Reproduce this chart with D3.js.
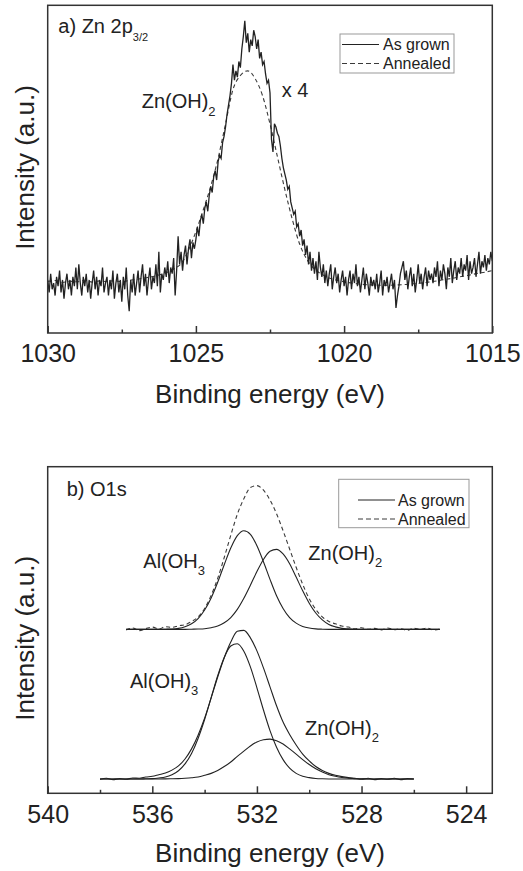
<!DOCTYPE html>
<html>
<head>
<meta charset="utf-8">
<script src="https://cdn.jsdelivr.net/npm/d3@7"></script>
<style>
body { margin: 0; background: #fff; }
svg { display: block; font-family: "Liberation Sans", Arial, sans-serif; }
</style>
</head>
<body>
<svg id="chart" width="523" height="871"></svg>
<script>
// ---- a) Zn 2p3/2 ----
const znTicks = [1030, 1025, 1020, 1015];
const znMinorTicks = [1027.5, 1022.5, 1017.5];
const znEnergy = d3.range(1030, 1014.99, -0.05);
const znAsGrown = [
	17, 13, 19, 14, 16, 12, 18, 15, 20, 13, 17, 11, 16, 19, 14, 17, 12, 18, 15, 21,
	14, 22, 16, 12, 18, 15, 19, 13, 17, 11, 16, 20, 14, 18, 12, 17, 15, 21, 13, 16,
	18, 12, 17, 14, 20, 11, 16, 19, 13, 17, 10, 18, 14, 21, 12, 7, 17, 13, 19, 12,
	16, 20, 13, 18, 22, 15, 19, 12, 17, 21, 14, 18, 16, 22, 15, 26, 13, 19, 17, 21,
	18, 23, 16, 21, 19, 24, 12, 20, 31, 22, 26, 20, 25, 28, 22, 27, 30, 24, 29, 27,
	30, 34, 31, 36, 38, 35, 40, 42, 39, 44, 47, 45, 50, 52, 49, 55, 57, 56, 61, 63,
	66, 70, 73, 76, 80, 86, 81, 84, 82, 87, 85, 91, 95, 100, 93, 96, 90, 94, 92, 97,
	95, 91, 94, 88, 90, 86, 87, 83, 80, 81, 77, 62, 58, 67, 66, 64, 63, 60, 56, 53,
	51, 49, 46, 47, 42, 40, 38, 39, 34, 35, 31, 33, 28, 30, 25, 28, 22, 26, 20, 24,
	19, 23, 17, 26, 21, 18, 22, 16, 20, 15, 19, 22, 14, 18, 21, 16, 19, 13, 17, 20,
	15, 18, 12, 17, 20, 14, 19, 16, 22, 15, 18, 13, 17, 21, 14, 19, 16, 12, 18, 15,
	17, 14, 19, 13, 16, 20, 12, 17, 15, 18, 13, 16, 19, 14, 17, 8, 12, 15, 19, 21,
	23, 17, 20, 14, 18, 21, 15, 19, 13, 17, 22, 16, 19, 14, 18, 21, 15, 20, 17, 19,
	16, 21, 18, 23, 15, 20, 17, 22, 19, 14, 21, 18, 24, 16, 20, 23, 17, 21, 19, 24,
	18, 22, 20, 25, 17, 23, 19, 21, 24, 18, 22, 26, 19, 23, 21, 25, 20, 24, 22, 26, 23
];
const znAnnealedEnergy = d3.range(1030, 1014.99, -0.25);
const znAnnealed = [
	16.5, 16.8, 16.2, 16.6, 16.4, 16.9, 16.3, 16.7, 16.5, 16.8, 16.4, 16.9,
	17.2, 17.6, 18.0, 18.6, 19.3, 20.5, 22.2, 26.5, 32.5, 39.5, 47, 56, 67,
	78, 82.5, 84, 81.5, 76, 67, 56.5, 46, 36.5, 28.5, 23.5, 20.5, 18.8, 17.6,
	16.9, 16.4, 16.0, 15.7, 15.5, 15.4, 15.3, 15.3, 15.4, 15.5, 15.7, 15.9,
	16.2, 16.5, 16.9, 17.3, 17.7, 18.2, 18.6, 19.1, 19.5, 20.0
];

// ---- b) O1s ----
const oTicks = [540, 536, 532, 528, 524];
const oMinorTicks = [538, 534, 530, 526];
// annealed (upper, offset) set
const oUpperEnergy = d3.range(537, 524.99, -0.25);
const oAnnealed = [
	50.0, 50.6, 49.8, 50.4, 50.9, 50.3, 51.0, 50.8, 51.3, 51.6, 52.6, 54.0,
	56.6, 60.6, 65.8, 72.2, 79.0, 85.4, 90.2, 93.6, 94.2, 92.8, 89.8, 85.6,
	80.4, 74.8, 69.2, 64.0, 59.6, 56.3, 54.0, 52.6, 51.9, 51.2, 50.9, 50.4,
	50.7, 50.2, 50.5, 50.0, 50.6, 50.1, 50.4, 49.9, 50.5, 50.2, 50.6, 50.0, 50.3
];
const oAnnealedAl = [
	50.2, 50.2, 50.2, 50.2, 50.2, 50.2, 50.25, 50.3, 50.5, 51.0, 51.9, 53.5,
	56.1, 59.8, 64.6, 70.0, 75.1, 78.9, 80.4, 79.3, 75.8, 70.9, 65.5, 60.5,
	56.6, 53.8, 52.1, 51.1, 50.6, 50.35, 50.25, 50.2, 50.2, 50.2, 50.2, 50.2,
	50.2, 50.2, 50.2, 50.2, 50.2, 50.2, 50.2, 50.2, 50.2, 50.2, 50.2, 50.2, 50.2
];
const oAnnealedZn = [
	50.2, 50.2, 50.2, 50.2, 50.2, 50.2, 50.2, 50.2, 50.2, 50.2, 50.25, 50.3,
	50.4, 50.7, 51.2, 52.2, 53.8, 56.3, 59.7, 63.7, 67.9, 71.6, 74.1, 74.7,
	73.3, 70.3, 66.2, 62.0, 58.2, 55.2, 53.1, 51.7, 50.95, 50.5, 50.35, 50.25,
	50.2, 50.2, 50.2, 50.2, 50.2, 50.2, 50.2, 50.2, 50.2, 50.2, 50.2, 50.2, 50.2
];
// as grown (lower) set
const oLowerEnergy = d3.range(538, 525.99, -0.25);
const oAsGrown = [
	4.3, 4.6, 4.2, 4.5, 4.3, 4.7, 4.6, 5.0, 5.2, 5.7, 6.2, 7.1,
	8.4, 10.5, 13.6, 17.8, 23.0, 29.2, 35.6, 41.5, 46.3, 49.6, 49.9, 47.6,
	43.6, 38.4, 32.6, 26.8, 21.8, 18.0, 14.8, 12.0, 9.9, 8.2, 7.0, 6.1,
	5.5, 5.1, 4.8, 4.6, 4.3, 4.6, 4.2, 4.5, 4.3, 4.6, 4.2, 4.5, 4.4
];
const oAsGrownAl = [
	4.4, 4.4, 4.4, 4.4, 4.4, 4.4, 4.4, 4.45, 4.5, 4.7, 5.0, 5.7,
	6.9, 9.0, 12.2, 16.8, 22.6, 29.3, 36.0, 41.6, 45.1, 45.8, 43.5, 38.7,
	32.3, 25.5, 19.2, 14.1, 10.3, 7.7, 6.1, 5.2, 4.8, 4.55, 4.45, 4.4,
	4.4, 4.4, 4.4, 4.4, 4.4, 4.4, 4.4, 4.4, 4.4, 4.4, 4.4, 4.4, 4.4
];
const oAsGrownZn = [
	4.4, 4.4, 4.4, 4.4, 4.4, 4.4, 4.4, 4.4, 4.4, 4.4, 4.42, 4.45,
	4.5, 4.6, 4.75, 5.0, 5.5, 6.1, 7.0, 8.2, 9.6, 11.3, 12.9, 14.5,
	15.7, 16.4, 16.6, 16.1, 15.1, 13.6, 12.0, 10.3, 8.8, 7.5, 6.5, 5.7,
	5.2, 4.85, 4.65, 4.5, 4.45, 4.4, 4.4, 4.4, 4.4, 4.4, 4.4, 4.4, 4.4
];

const legendLabels = ["As grown", "Annealed"];

const ink = "#222";
const svg = d3.select("#chart");

/** pair an energy grid with its intensities */
function zipSeries(energy, values) {
	return energy.map((e, i) => ({e: e, v: values[i]}));
}

/** text with an optional subscript tail */
function label(g, x, y, main, sub, size, subSize, subDy) {
	const t = g.append("text")
		.attr("x", x).attr("y", y)
		.attr("font-size", size)
		.attr("fill", ink)
		.text(main);
	if (sub) {
		t.append("tspan")
			.attr("font-size", subSize)
			.attr("dy", subDy)
			.text(sub);
	}
	return t;
}

/** draws one panel: frame, inward ticks, axis titles, curves, legend */
function drawPanel(p) {
	const x = d3.scaleLinear().domain(p.xDomain).range([p.left, p.right]);
	const y = d3.scaleLinear().domain(p.yDomain).range([p.bottom, p.top]);
	const g = svg.append("g");

	// curves
	p.series.forEach(s => {
		const line = d3.line()
			.x(d => x(d.e))
			.y(d => y(d.v))
			.curve(s.smooth ? d3.curveMonotoneX : d3.curveLinear);
		g.append("path")
			.datum(zipSeries(s.energy, s.values))
			.attr("d", line)
			.attr("fill", "none")
			.attr("stroke", s.dashed ? "#3a3a3a" : ink)
			.attr("stroke-width", s.width || 1.1)
			.attr("stroke-dasharray", s.dashed ? "4,3" : null);
	});

	// major ticks + labels
	const axis = g.append("g")
		.attr("transform", `translate(0,${p.bottom})`)
		.call(d3.axisBottom(x).tickValues(p.ticks).tickSize(-7).tickPadding(11.5).tickFormat(d3.format("d")));
	axis.select(".domain").remove();
	axis.selectAll("line").attr("stroke", "#333").attr("stroke-width", 1.5);
	axis.selectAll("text")
		.attr("font-size", 25)
		.attr("fill", ink)
		.attr("font-family", "Liberation Sans, Arial, sans-serif");

	// minor ticks
	const minor = g.append("g")
		.attr("transform", `translate(0,${p.bottom})`)
		.call(d3.axisBottom(x).tickValues(p.minorTicks).tickSize(-3.5).tickFormat(""));
	minor.select(".domain").remove();
	minor.selectAll("line").attr("stroke", "#333").attr("stroke-width", 1.5);

	// frame
	g.append("rect")
		.attr("x", p.left).attr("y", p.top)
		.attr("width", p.right - p.left).attr("height", p.bottom - p.top)
		.attr("fill", "none")
		.attr("stroke", "#333")
		.attr("stroke-width", 1.5);

	// axis titles
	g.append("text")
		.attr("x", (p.left + p.right) / 2)
		.attr("y", p.bottom + p.xTitleGap)
		.attr("text-anchor", "middle")
		.attr("font-size", 26)
		.attr("fill", ink)
		.text("Binding energy (eV)");
	g.append("text")
		.attr("transform", `translate(33.5,${p.yTitleCenter}) rotate(-90)`)
		.attr("text-anchor", "middle")
		.attr("font-size", 26)
		.attr("fill", ink)
		.text("Intensity (a.u.)");

	// legend
	const L = p.legend;
	g.append("rect")
		.attr("x", L.x).attr("y", L.y)
		.attr("width", L.w).attr("height", L.h)
		.attr("fill", "#fff")
		.attr("stroke", "#999")
		.attr("stroke-width", 1);
	legendLabels.forEach((name, i) => {
		const ly = L.lineY + i * 19;
		g.append("line")
			.attr("x1", L.lineX0).attr("x2", L.lineX1)
			.attr("y1", ly).attr("y2", ly)
			.attr("stroke", i ? "#3a3a3a" : ink)
			.attr("stroke-width", 1)
			.attr("stroke-dasharray", i ? "5,3" : null);
		g.append("text")
			.attr("x", L.textX).attr("y", ly + 5.5)
			.attr("font-size", 16)
			.attr("fill", ink)
			.text(name);
	});

	p.labels.forEach(l => label(g, l.x, l.y, l.main, l.sub, l.size, l.subSize, l.subDy));
}

drawPanel({
	left: 47.7, right: 492.3, top: 5.3, bottom: 333,
	xDomain: [1030, 1015], yDomain: [0, 105],
	ticks: znTicks, minorTicks: znMinorTicks,
	xTitleGap: 70, yTitleCenter: 167.5,
	series: [
		{energy: znAnnealedEnergy, values: znAnnealed, dashed: true, smooth: true},
		{energy: znEnergy, values: znAsGrown, width: 1.3}
	],
	legend: {x: 340, y: 34, w: 114, h: 39, lineX0: 342, lineX1: 379, lineY: 44.5, textX: 383},
	labels: [
		{x: 58.3, y: 33.3, main: "a) Zn 2p", sub: "3/2", size: 20, subSize: 11, subDy: 8},
		{x: 141.7, y: 108.3, main: "Zn(OH)", sub: "2", size: 20, subSize: 13, subDy: 7.5},
		{x: 281.7, y: 97.3, main: "x 4", size: 20}
	]
});

drawPanel({
	left: 47.7, right: 492.3, top: 466.7, bottom: 793.3,
	xDomain: [540, 523], yDomain: [0, 100],
	ticks: oTicks, minorTicks: oMinorTicks,
	xTitleGap: 68.5, yTitleCenter: 638.3,
	series: [
		{energy: oUpperEnergy, values: oAnnealed, dashed: true, smooth: true},
		{energy: oUpperEnergy, values: oAnnealedAl, smooth: true},
		{energy: oUpperEnergy, values: oAnnealedZn, smooth: true},
		{energy: oLowerEnergy, values: oAsGrown, smooth: true},
		{energy: oLowerEnergy, values: oAsGrownAl, smooth: true},
		{energy: oLowerEnergy, values: oAsGrownZn, smooth: true}
	],
	legend: {x: 338.7, y: 479.3, w: 130.3, h: 48.4, lineX0: 358, lineX1: 395, lineY: 500, textX: 398},
	labels: [
		{x: 66.7, y: 496, main: "b) O1s", size: 20},
		{x: 143.3, y: 568.3, main: "Al(OH", sub: "3", size: 20, subSize: 13, subDy: 6.7},
		{x: 308.3, y: 560, main: "Zn(OH)", sub: "2", size: 20, subSize: 13, subDy: 7.3},
		{x: 130, y: 688.3, main: "Al(OH)", sub: "3", size: 20, subSize: 13, subDy: 6.7},
		{x: 305, y: 735, main: "Zn(OH)", sub: "2", size: 20, subSize: 13, subDy: 6.7}
	]
});
</script>
</body>
</html>
